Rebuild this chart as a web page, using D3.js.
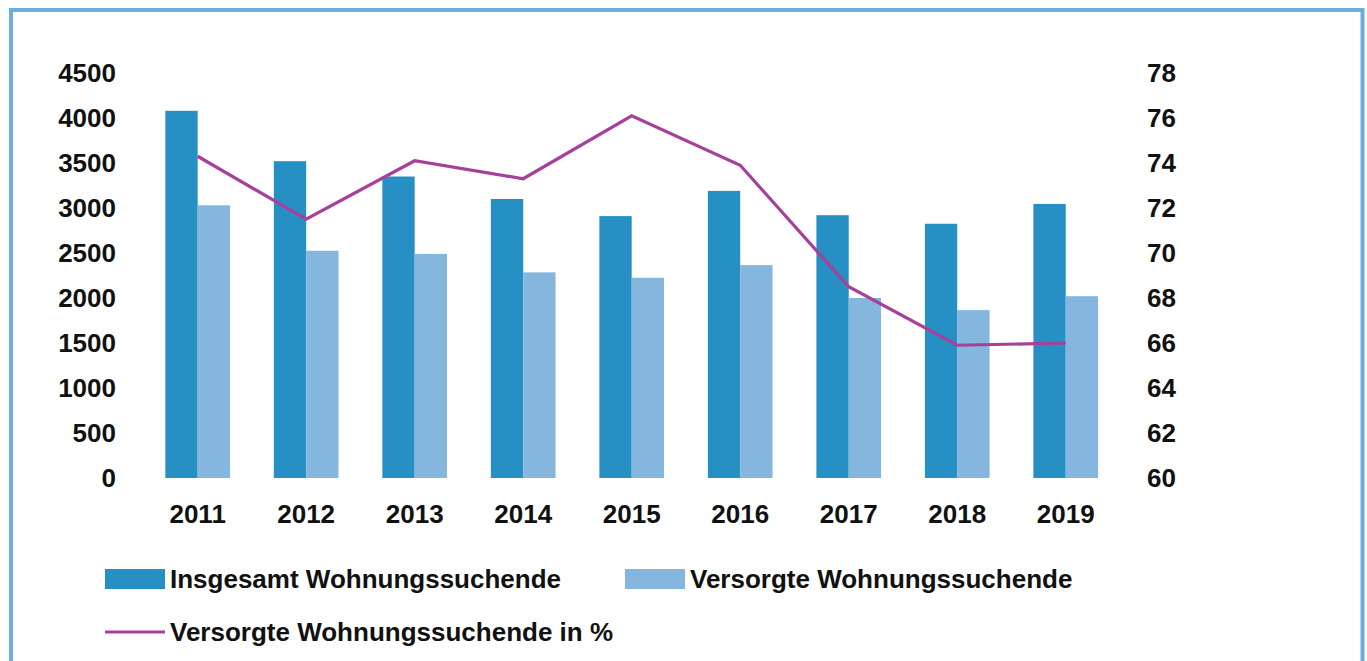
<!DOCTYPE html>
<html><head><meta charset="utf-8">
<script src="https://cdn.jsdelivr.net/npm/d3@7"></script>
<style>
html,body{margin:0;padding:0;background:#fff;}
svg{display:block;}
text{font-family:"Liberation Sans",Arial,sans-serif;font-weight:bold;fill:#111;}
</style></head>
<body>
<svg id="chart" width="1367" height="661"></svg>
<script>
const years = ["2011","2012","2013","2014","2015","2016","2017","2018","2019"];
const insgesamt = [4080, 3520, 3350, 3100, 2910, 3190, 2920, 2825, 3045];
const versorgt = [3030, 2525, 2490, 2285, 2225, 2365, 2000, 1865, 2020];
const versorgtProzent = [74.3, 71.5, 74.1, 73.3, 76.1, 73.9, 68.5, 65.9, 66.0];
const leftTicks = [0, 500, 1000, 1500, 2000, 2500, 3000, 3500, 4000, 4500];
const rightTicks = [60, 62, 64, 66, 68, 70, 72, 74, 76, 78];
const seriesNames = ["Insgesamt Wohnungssuchende", "Versorgte Wohnungssuchende", "Versorgte Wohnungssuchende in %"];

const colDark = "#2690c5", colLight = "#85b6de", colLine = "#a6409a", colBorder = "#6aaedc";

const svg = d3.select("#chart");

// frame
svg.append("rect").attr("x", 11).attr("y", 10).attr("width", 1351.5).attr("height", 720)
  .attr("fill", "none").attr("stroke", colBorder).attr("stroke-width", 4);

const x = d3.scaleBand().domain(years).range([143.4, 1120]).paddingInner(0.404).paddingOuter(0.202);
const xs = d3.scaleBand().domain(["a","b"]).range([0, x.bandwidth()]);
const yL = d3.scaleLinear().domain([0, 4500]).range([478, 73]);
const yR = d3.scaleLinear().domain([60, 78]).range([478, 73]);

const g = svg.append("g");
// bars
g.selectAll("rect.dark").data(years).join("rect").attr("class","dark")
  .attr("x", d => x(d) + xs("a")).attr("width", xs.bandwidth())
  .attr("y", (d,i) => yL(insgesamt[i])).attr("height", (d,i) => yL(0) - yL(insgesamt[i]))
  .attr("fill", colDark);
g.selectAll("rect.light").data(years).join("rect").attr("class","light")
  .attr("x", d => x(d) + xs("b")).attr("width", xs.bandwidth())
  .attr("y", (d,i) => yL(versorgt[i])).attr("height", (d,i) => yL(0) - yL(versorgt[i]))
  .attr("fill", colLight);

// line
const line = d3.line().x((d,i) => x(years[i]) + x.bandwidth()/2).y(d => yR(d));
g.append("path").datum(versorgtProzent).attr("d", line)
  .attr("fill","none").attr("stroke", colLine).attr("stroke-width", 3.2).attr("stroke-linejoin","miter");

// axes
const fs = 26;
const axL = svg.append("g").attr("transform","translate(116,0)")
  .call(d3.axisLeft(yL).tickValues(leftTicks).tickSize(0).tickPadding(0).tickFormat(d3.format("d")));
const axR = svg.append("g").attr("transform","translate(1147,0)")
  .call(d3.axisRight(yR).tickValues(rightTicks).tickSize(0).tickPadding(0).tickFormat(d3.format("d")));
const axB = svg.append("g").attr("transform","translate(0,478)")
  .call(d3.axisBottom(x).tickSize(0).tickPadding(0));
[axL, axR, axB].forEach(a => {
  a.select(".domain").remove();
  a.selectAll("text").attr("font-family",'"Liberation Sans",Arial,sans-serif')
    .attr("font-weight","bold").attr("font-size", fs).attr("fill","#111");
});
axL.selectAll("text").attr("dy","0.35em").attr("y", -1);
axR.selectAll("text").attr("dy","0.35em").attr("y", -1);
axB.selectAll("text").attr("dy","0").attr("y", 45);

// legend
const leg = svg.append("g");
const items = [
  {name: seriesNames[0], type:"rect", color: colDark, x: 105, y: 579},
  {name: seriesNames[1], type:"rect", color: colLight, x: 625, y: 579},
  {name: seriesNames[2], type:"line", color: colLine, x: 105, y: 632}
];
items.forEach(it => {
  if (it.type === "rect") {
    leg.append("rect").attr("x", it.x).attr("y", it.y - 10).attr("width", 60).attr("height", 20).attr("fill", it.color);
  } else {
    leg.append("line").attr("x1", it.x).attr("x2", it.x + 60).attr("y1", it.y).attr("y2", it.y)
      .attr("stroke", it.color).attr("stroke-width", 3.2);
  }
  leg.append("text").attr("x", it.x + 65).attr("y", it.y).attr("dy","0.35em")
    .attr("font-size", fs).text(it.name);
});
</script>
</body></html>
